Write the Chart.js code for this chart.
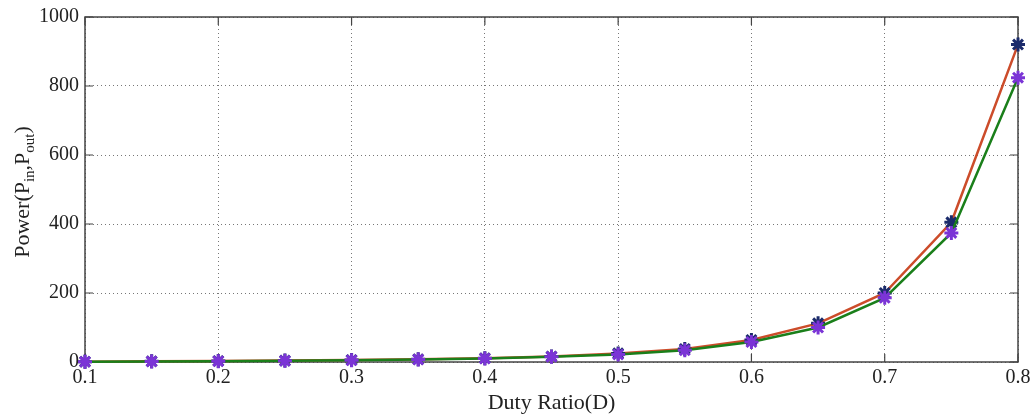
<!DOCTYPE html>
<html><head><meta charset="utf-8">
<script src="https://cdn.jsdelivr.net/npm/chart.js@4/dist/chart.umd.min.js"></script>
<style>html,body{margin:0;padding:0;background:#fff;}#wrap{width:1033px;height:416px;}</style>
</head><body><div id="wrap"><canvas id="c" width="1033" height="416"></canvas></div>
<script>
const dutyRatio = [0.1,0.15,0.2,0.25,0.3,0.35,0.4,0.45,0.5,0.55,0.6,0.65,0.7,0.75,0.8];
const powerIn  = [1,2,3,4,6,8,11,16,25,38,64,112,200,405,920];
const powerOut = [0.5,1.5,2.5,3.5,5,7,10,15,22,34,58,100,186,374,824];
const xTicks = [0.1,0.2,0.3,0.4,0.5,0.6,0.7,0.8];
const yTicks = [0,200,400,600,800,1000];
const xTitle = 'Duty Ratio(D)';
const yTitleParts = [['Power(P',0],['in',1],[',P',0],['out',1],[')',0]];

const SERIF = '"Liberation Serif", "DejaVu Serif", serif';

const framePlugin = {
  id:'frame',
  beforeDatasetsDraw(chart){
    const {ctx, chartArea:a} = chart;
    const xs = chart.scales.x, ys = chart.scales.y;
    ctx.save();
    ctx.strokeStyle = '#444';
    ctx.lineWidth = 1.5;
    ctx.strokeRect(a.left, a.top, a.right-a.left, a.bottom-a.top);
    ctx.lineWidth = 1.2;
    ctx.beginPath();
    const L = 8;
    xTicks.forEach(v=>{
      const px = xs.getPixelForValue(v);
      ctx.moveTo(px, a.bottom); ctx.lineTo(px, a.bottom-L);
      ctx.moveTo(px, a.top); ctx.lineTo(px, a.top+L);
    });
    yTicks.forEach(v=>{
      const py = ys.getPixelForValue(v);
      ctx.moveTo(a.left, py); ctx.lineTo(a.left+L, py);
      ctx.moveTo(a.right, py); ctx.lineTo(a.right-L, py);
    });
    ctx.stroke();
    ctx.restore();
  },
  afterDraw(chart){
    const {ctx} = chart;
    ctx.save();
    ctx.fillStyle = '#222';
    ctx.translate(23, 192);
    ctx.rotate(-Math.PI/2);
    const big = '22px '+SERIF, small = '15px '+SERIF;
    let total = 0;
    yTitleParts.forEach(([t,s])=>{ ctx.font = s?small:big; total += ctx.measureText(t).width; });
    let x = -total/2;
    ctx.textBaseline = 'middle';
    yTitleParts.forEach(([t,s])=>{
      ctx.font = s?small:big;
      ctx.fillText(t, x, s?7:0);
      x += ctx.measureText(t).width;
    });
    ctx.restore();
  }
};

new Chart(document.getElementById('c'), {
  type:'line',
  data:{
    datasets:[
      {label:'Pout', data:dutyRatio.map((x,i)=>({x, y:powerOut[i]})), borderColor:'#1a7f1a', borderWidth:2.5,
       pointStyle:'star', pointRadius:7, pointBorderWidth:3, pointBorderColor:'#7b34d6', pointBackgroundColor:'#7b34d6',
       clip:false, order:0, tension:0},
      {label:'Pin', data:dutyRatio.map((x,i)=>({x, y:powerIn[i]})), borderColor:'#cc4c2a', borderWidth:2.5,
       pointStyle:'star', pointRadius:7, pointBorderWidth:3, pointBorderColor:'#1b2b6b', pointBackgroundColor:'#1b2b6b',
       clip:false, order:1, tension:0}
    ]
  },
  options:{
    responsive:false, animation:false,
    layout:{padding:{top:17,right:15,left:0,bottom:0}},
    plugins:{legend:{display:false}, tooltip:{enabled:false}},
    scales:{
      x:{type:'linear', min:0.1, max:0.8,
        afterBuildTicks:s=>{ s.ticks = xTicks.map(v=>({value:v})); },
        afterFit:s=>{ s.height = 54; s.paddingRight = 0; s.paddingLeft = 0; },
        ticks:{callback:v=>Number(v).toFixed(1), font:{family:SERIF,size:20}, color:'#222', padding:4, maxRotation:0, autoSkip:false},
        grid:{color:'#777', lineWidth:1, drawTicks:false},
        border:{display:false, dash:[1,3]},
        title:{display:true, text:xTitle, font:{family:SERIF,size:22}, color:'#222', padding:{top:0,bottom:0}}
      },
      y:{type:'linear', min:0, max:1000,
        afterBuildTicks:s=>{ s.ticks = yTicks.map(v=>({value:v})); },
        afterFit:s=>{ s.width = 85; s.paddingTop = 0; s.paddingBottom = 0; },
        ticks:{callback:v=>String(v), font:{family:SERIF,size:20}, color:'#222', padding:6},
        grid:{color:'#777', lineWidth:1, drawTicks:false},
        border:{display:false, dash:[1,3]}
      }
    }
  },
  plugins:[framePlugin]
});
</script></body></html>
